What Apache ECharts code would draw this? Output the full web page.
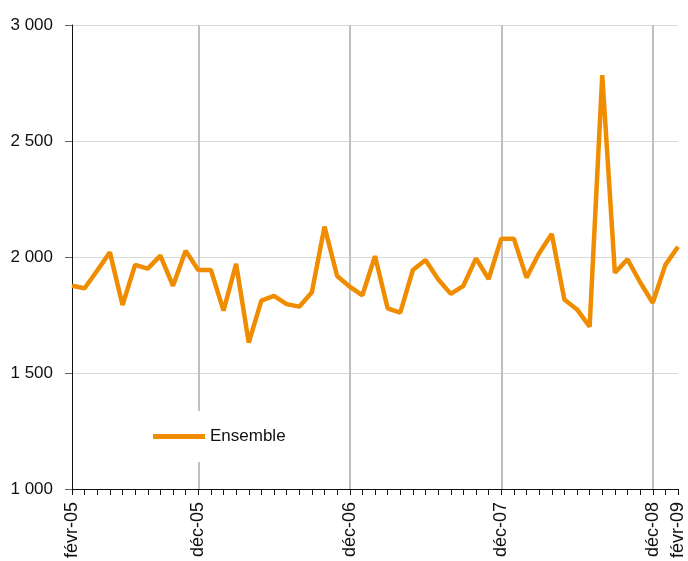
<!DOCTYPE html>
<html>
<head>
<meta charset="utf-8">
<script src="https://cdn.jsdelivr.net/npm/echarts@6/dist/echarts.min.js"></script>
<style>
  html, body { margin: 0; padding: 0; background: #fff; }
  #chart { width: 688px; height: 561px; }
</style>
</head>
<body>
<div id="chart"></div>
<script>
// mois, de févr-05 à févr-09
var months = [
  'févr-05', 'mars-05', 'avr-05', 'mai-05', 'juin-05', 'juil-05', 'août-05', 'sept-05', 'oct-05', 'nov-05', 'déc-05',
  'janv-06', 'févr-06', 'mars-06', 'avr-06', 'mai-06', 'juin-06', 'juil-06', 'août-06', 'sept-06', 'oct-06', 'nov-06', 'déc-06',
  'janv-07', 'févr-07', 'mars-07', 'avr-07', 'mai-07', 'juin-07', 'juil-07', 'août-07', 'sept-07', 'oct-07', 'nov-07', 'déc-07',
  'janv-08', 'févr-08', 'mars-08', 'avr-08', 'mai-08', 'juin-08', 'juil-08', 'août-08', 'sept-08', 'oct-08', 'nov-08', 'déc-08',
  'janv-09', 'févr-09'
];

var ensemble = [
  1876, 1865, 1942, 2020, 1793, 1966, 1950, 2006, 1876, 2027, 1944,
  1944, 1769, 1970, 1631, 1812, 1832, 1797, 1786, 1848, 2131, 1918, 1872,
  1835, 2004, 1779, 1760, 1944, 1987, 1904, 1841, 1876, 1994, 1905, 2079,
  2079, 1911, 2016, 2099, 1817, 1774, 1700, 2784, 1932, 1990, 1891, 1803,
  1966, 2044
];

// index des libellés affichés et des traits verticaux
var labelIdx = [0, 10, 22, 34, 46, 48];
var vlineIdx = [10, 22, 34, 46];

var yTicks = [1000, 1500, 2000, 2500, 3000];

var chart = echarts.init(document.getElementById('chart'));
var font = "'Liberation Sans', Arial, sans-serif";

chart.setOption({
  animation: false,
  grid: { left: 72, right: 10, top: 25, bottom: 72, outerBoundsMode: 'none', containLabel: false },
  legend: {
    data: ['Ensemble'],
    left: 143,
    top: 411,
    padding: [17, 10],
    backgroundColor: '#fff',
    icon: 'rect',
    itemWidth: 52,
    itemHeight: 5,
    textStyle: { fontSize: 17, color: '#111', fontFamily: font }
  },
  xAxis: {
    type: 'category',
    data: months,
    boundaryGap: false,
    axisLine: { lineStyle: { color: '#111', width: 1 } },
    axisTick: { interval: 0, length: 6, lineStyle: { color: '#111' } },
    axisLabel: {
      interval: function (i) { return labelIdx.indexOf(i) >= 0; },
      rotate: 90,
      margin: 13,
      fontSize: 18,
      color: '#111',
      fontFamily: font
    },
    splitLine: {
      show: true,
      interval: function (i) { return vlineIdx.indexOf(i) >= 0; },
      lineStyle: { color: '#c0c0c0', width: 2 }
    }
  },
  yAxis: {
    type: 'value',
    min: yTicks[0],
    max: yTicks[yTicks.length - 1],
    interval: 500,
    axisLine: { show: true, lineStyle: { color: '#111', width: 1 } },
    axisTick: { show: true, length: 7, lineStyle: { color: '#666' } },
    axisLabel: {
      margin: 19,
      fontSize: 17,
      color: '#111',
      fontFamily: font,
      formatter: function (v) {
        return String(v).replace(/\B(?=(\d{3})+(?!\d))/g, ' ');
      }
    },
    splitLine: { lineStyle: { color: '#d9d9d9', width: 1 } }
  },
  series: [{
    name: 'Ensemble',
    type: 'line',
    data: ensemble,
    symbol: 'none',
    lineStyle: { color: '#F08C00', width: 4.5 },
    itemStyle: { color: '#F08C00' }
  }]
});
</script>
</body>
</html>
